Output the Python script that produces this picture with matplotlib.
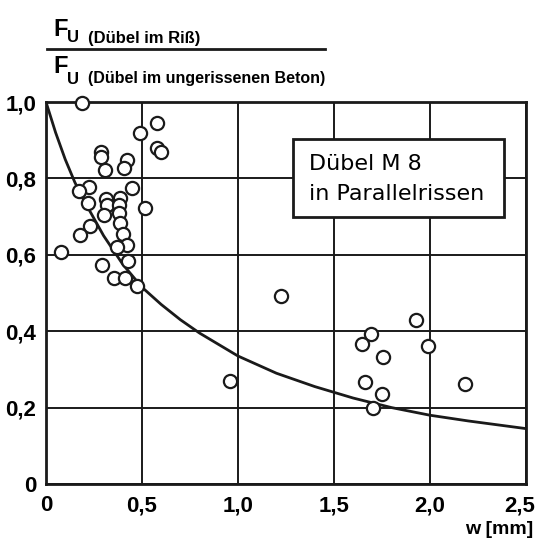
import matplotlib
matplotlib.use("Agg")
import matplotlib.pyplot as plt
import matplotlib.transforms as mtransforms
from matplotlib.patches import Rectangle

# measured points (w in mm, F ratio)
w_pts = [0.19, 0.58, 0.49, 0.577, 0.597, 0.285, 0.286, 0.42, 0.307, 0.406,
         0.226, 0.173, 0.446, 0.217, 0.312, 0.385, 0.316, 0.382, 0.516, 0.30,
         0.382, 0.385, 0.229, 0.177, 0.40, 0.424, 0.368, 0.076, 0.429, 0.29,
         0.354, 0.411, 0.472,
         0.96, 1.222,
         1.927, 1.695, 1.648, 1.992, 1.756, 1.659, 2.18, 1.75, 1.704]
f_pts = [0.997, 0.944, 0.92, 0.879, 0.87, 0.87, 0.857, 0.848, 0.822, 0.826,
         0.778, 0.768, 0.776, 0.735, 0.745, 0.748, 0.73, 0.73, 0.722, 0.704,
         0.709, 0.682, 0.675, 0.652, 0.654, 0.626, 0.621, 0.608, 0.585, 0.573,
         0.54, 0.538, 0.519,
         0.27, 0.493,
         0.429, 0.392, 0.366, 0.361, 0.333, 0.268, 0.261, 0.235, 0.20]

# curve
w_curve = [0, 0.05, 0.1, 0.15, 0.2, 0.3, 0.4, 0.5, 0.6, 0.7, 0.8, 1.0,
           1.2, 1.4, 1.6, 1.8, 2.0, 2.2, 2.5]
f_curve = [1.0, 0.92, 0.85, 0.79, 0.74, 0.65, 0.575, 0.515, 0.47, 0.43, 0.395,
           0.335, 0.29, 0.255, 0.225, 0.2, 0.18, 0.165, 0.145]

x_ticks = [0, 0.5, 1.0, 1.5, 2.0, 2.5]
x_labels = ["0", "0,5", "1,0", "1,5", "2,0", "2,5"]
y_ticks = [0, 0.2, 0.4, 0.6, 0.8, 1.0]
y_labels = ["0", "0,2", "0,4", "0,6", "0,8", "1,0"]

plt.rcParams['font.family'] = ['Liberation Sans', 'DejaVu Sans']
ink = '#1a1a1a'

W, H = 537, 538
fig = plt.figure(figsize=(W / 100, H / 100), dpi=100)
ax = fig.add_axes([46 / W, 1 - 484 / H, 480 / W, 382 / H])

ax.plot(w_curve, f_curve, color=ink, lw=2.0, zorder=3)
ax.plot(w_pts, f_pts, 'o', ms=9.5, mfc='white', mec=ink, mew=1.6,
        clip_on=False, zorder=4)

ax.set_xlim(0, 2.5)
ax.set_ylim(0, 1.0)
ax.set_xticks(x_ticks)
ax.set_xticklabels(x_labels, fontsize=16, fontweight='bold')
ax.set_yticks(y_ticks)
ax.set_yticklabels(y_labels, fontsize=16, fontweight='bold')
ax.tick_params(length=0)
ax.tick_params(axis='y', pad=7)
ax.tick_params(axis='x', pad=8)
ax.grid(True, color=ink, lw=1.4)
for s in ax.spines.values():
    s.set_linewidth(2.0)
    s.set_color(ink)

# last x label sits a bit left so it stays inside the picture
last = ax.get_xticklabels()[-1]
last.set_transform(last.get_transform() +
                   mtransforms.ScaledTranslation(-6 / 100, 0, fig.dpi_scale_trans))


def fx(px):
    return px / W


def fy(py):
    return 1 - py / H


# y label as fraction
fig.text(fx(53), fy(30), "F", fontsize=17, fontweight='bold', va='center')
fig.text(fx(67), fy(38), "U", fontsize=12, fontweight='bold', va='center')
fig.text(fx(88), fy(38), "(Dübel im Riß)", fontsize=12, fontweight='bold', va='center')
fig.add_artist(plt.Line2D([fx(47), fx(325)], [fy(49), fy(49)], color=ink, lw=2.0))
fig.text(fx(53), fy(66), "F", fontsize=17, fontweight='bold', va='center')
fig.text(fx(67), fy(79), "U", fontsize=12, fontweight='bold', va='center')
fig.text(fx(88), fy(79), "(Dübel im ungerissenen Beton)", fontsize=11.5,
         fontweight='bold', va='center')

fig.text(fx(533), fy(529), "w [mm]", fontsize=14, fontweight='bold',
         ha='right', va='center')

# boxed note
fig.add_artist(Rectangle((fx(293), fy(217)), fx(504) - fx(293), fy(139) - fy(217),
                         transform=fig.transFigure, fc='white', ec=ink, lw=2.0,
                         zorder=5))
fig.text(fx(309), fy(164), "Dübel M 8", fontsize=16, family='DejaVu Sans',
         va='center', zorder=6)
fig.text(fx(309), fy(194), "in Parallelrissen", fontsize=16, family='DejaVu Sans',
         va='center', zorder=6)

fig.savefig("out.png", dpi=100)
